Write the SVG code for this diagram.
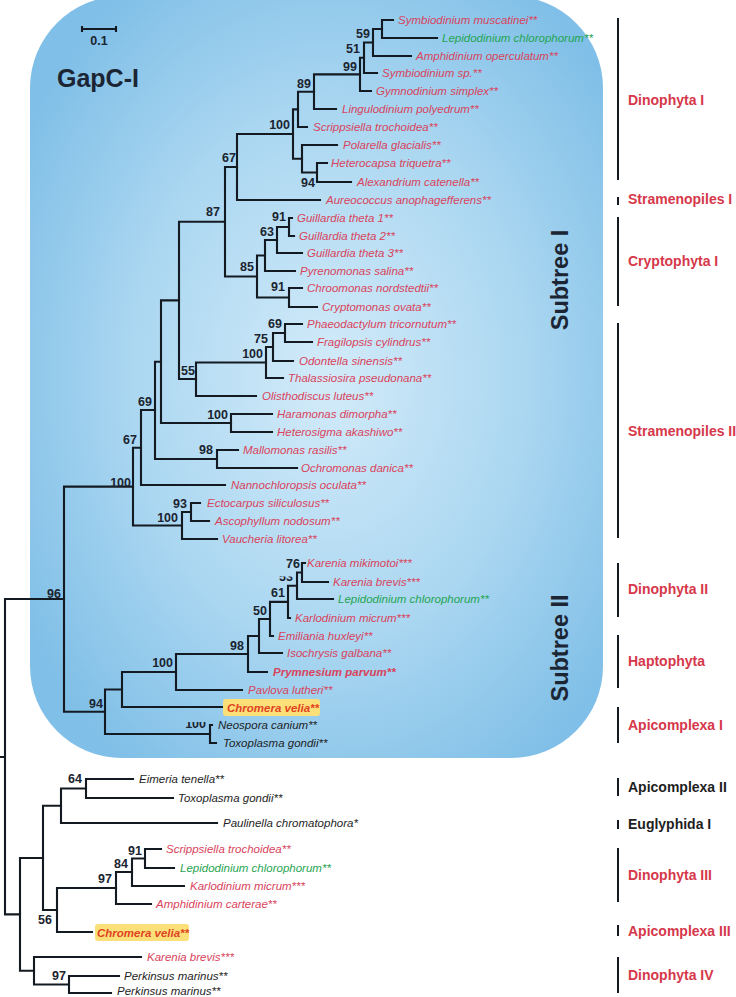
<svg xmlns="http://www.w3.org/2000/svg" width="736" height="997" viewBox="0 0 736 997">
<defs>
<radialGradient id="bg" cx="0.52" cy="0.5" r="0.62">
<stop offset="0" stop-color="#d3ebf9"/>
<stop offset="0.55" stop-color="#abd7f1"/>
<stop offset="1" stop-color="#80bfe7"/>
</radialGradient>
<clipPath id="c53"><rect x="270" y="576.5" width="30" height="10"/></clipPath>
<clipPath id="c100"><rect x="180" y="722" width="30" height="10"/></clipPath>
<style>
.br{fill:none;stroke:#141a22;stroke-width:2.1;stroke-linecap:square}
.bar{fill:none;stroke:#141a22;stroke-width:2}
.lf{font-family:"Liberation Sans",Arial,sans-serif;font-size:11.5px;font-style:italic}
.red{fill:#d9435c}
.grn{fill:#1fa552}
.blk{fill:#1e1e1e}
.bs{font-family:"Liberation Sans",Arial,sans-serif;font-size:12.5px;font-weight:bold;fill:#1b2430;text-anchor:end}
.grp{font-family:"Liberation Sans",Arial,sans-serif;font-size:14px;font-weight:bold}
.gred{fill:#d6374a}
.cv{font-family:"Liberation Sans",Arial,sans-serif;font-size:11.5px;font-style:italic;font-weight:bold;fill:#e0431f}
.hl{fill:#fbe07a}
.sub{font-family:"Liberation Sans",Arial,sans-serif;font-size:23.5px;font-weight:bold;fill:#1c2533;text-anchor:middle}
</style>
</defs>

<rect x="30" y="-4" width="573" height="762" rx="92" ry="92" fill="url(#bg)"/>

<g id="scale">
<path class="br" d="M83,29H115 M82,26V32 M116,26V32" style="stroke-linecap:butt"/>
<text x="99" y="45" style="font-family:'Liberation Sans',Arial,sans-serif;font-size:12.5px;font-weight:bold;fill:#1b2430;text-anchor:middle">0.1</text>
</g>
<g id="title"><text x="57" y="87" style="font-family:'Liberation Sans',Arial,sans-serif;font-size:25px;font-weight:bold;fill:#1c2533">GapC-I</text></g>
<g id="subtree1"><text class="sub" transform="translate(568,280) rotate(-90)">Subtree I</text></g>
<g id="subtree2"><text class="sub" transform="translate(568,648) rotate(-90)">Subtree II</text></g>

<g id="connectors">
<path class="br" d="M382,20V38 M382,20H393 M382,38H437"/>
<path class="br" d="M373,29V56 M373,29H382 M373,56H411"/>
<path class="br" d="M364,42.5V73 M364,42.5H373 M364,73H377"/>
<path class="br" d="M360,57.75V91 M360,57.75H364 M360,91H371"/>
<path class="br" d="M314,74.4V109 M314,74.4H360 M314,109H336"/>
<path class="br" d="M298,91.7V127 M298,91.7H314 M298,127H307"/>
<path class="br" d="M317,163V182 M317,163H327 M317,182H351"/>
<path class="br" d="M302,145V172.5 M302,145H337 M302,172.5H317"/>
<path class="br" d="M293,109.4V158.7 M293,109.4H298 M293,158.7H302"/>
<path class="br" d="M237,134V200 M237,134H293 M237,200H320"/>
<path class="br" d="M289,218V236 M289,218H292 M289,236H294"/>
<path class="br" d="M277,227V253 M277,227H289 M277,253H302"/>
<path class="br" d="M265,240V271 M265,240H277 M265,271H295"/>
<path class="br" d="M289,288V307 M289,288H302 M289,307H317"/>
<path class="br" d="M257,255.5V297.5 M257,255.5H265 M257,297.5H289"/>
<path class="br" d="M225,167V276.5 M225,167H237 M225,276.5H257"/>
<path class="br" d="M285,324V342 M285,324H302 M285,342H312"/>
<path class="br" d="M273,333V361 M273,333H285 M273,361H293"/>
<path class="br" d="M266,347V378 M266,347H273 M266,378H283"/>
<path class="br" d="M196,362.5V396 M196,362.5H266 M196,396H256"/>
<path class="br" d="M179,221.75V379 M179,221.75H225 M179,379H196"/>
<path class="br" d="M231,414V432 M231,414H272 M231,432H272"/>
<path class="br" d="M161,300.4V423 M161,300.4H179 M161,423H231"/>
<path class="br" d="M217,450V468 M217,450H238 M217,468H297"/>
<path class="br" d="M155,361.7V459 M155,361.7H161 M155,459H217"/>
<path class="br" d="M141,410V485 M141,410H155 M141,485H225"/>
<path class="br" d="M191,503V521 M191,503H200 M191,521H209"/>
<path class="br" d="M182,512V539 M182,512H191 M182,539H217"/>
<path class="br" d="M133,447.7V525.5 M133,447.7H141 M133,525.5H182"/>
<path class="br" d="M302,563V582 M302,563H305 M302,582H328"/>
<path class="br" d="M297,572.5V599 M297,572.5H302 M297,599H333"/>
<path class="br" d="M288,585.75V618 M288,585.75H297 M288,618H290"/>
<path class="br" d="M270,601.9V636 M270,601.9H288 M270,636H273"/>
<path class="br" d="M259,619V653 M259,619H270 M259,653H282"/>
<path class="br" d="M248,636V672 M248,636H259 M248,672H267"/>
<path class="br" d="M176,654V690 M176,654H248 M176,690H242"/>
<path class="br" d="M122,672V707 M122,672H176 M122,707H222"/>
<path class="br" d="M210,725V743 M210,725H212 M210,743H216"/>
<path class="br" d="M105,689.5V734 M105,689.5H122 M105,734H210"/>
<path class="br" d="M64,486.6V711.75 M64,486.6H133 M64,711.75H105"/>
<path class="br" d="M86,779V798 M86,779H133 M86,798H173"/>
<path class="br" d="M61,788.5V823 M61,788.5H86 M61,823H217"/>
<path class="br" d="M145,849V868 M145,849H161 M145,868H174"/>
<path class="br" d="M132,858.5V886 M132,858.5H145 M132,886H184"/>
<path class="br" d="M116,872V904 M116,872H132 M116,904H151"/>
<path class="br" d="M57,888V932 M57,888H116 M57,932H92"/>
<path class="br" d="M43,805.75V910 M43,805.75H61 M43,910H57"/>
<path class="br" d="M69,976V993 M69,976H119 M69,993H111"/>
<path class="br" d="M34,957V984.5 M34,957H141 M34,984.5H69"/>
<path class="br" d="M20,858V970.75 M20,858H43 M20,970.75H34"/>
<path class="br" d="M5,599V914.4 M5,599H64 M5,914.4H20 M0,757H5"/>
</g>

<g id="bootstrap">
<text class="bs" x="370" y="38">59</text>
<text class="bs" x="360" y="53">51</text>
<text class="bs" x="357" y="71">99</text>
<text class="bs" x="311" y="88">89</text>
<text class="bs" x="290" y="129">100</text>
<text class="bs" x="236" y="162">67</text>
<text class="bs" x="315" y="187">94</text>
<text class="bs" x="220" y="216">87</text>
<text class="bs" x="286" y="221">91</text>
<text class="bs" x="274" y="236">63</text>
<text class="bs" x="254" y="271">85</text>
<text class="bs" x="285" y="291">91</text>
<text class="bs" x="282" y="328">69</text>
<text class="bs" x="268" y="343">75</text>
<text class="bs" x="263" y="358">100</text>
<text class="bs" x="195" y="375">55</text>
<text class="bs" x="152" y="406">69</text>
<text class="bs" x="228" y="419">100</text>
<text class="bs" x="137" y="444">67</text>
<text class="bs" x="213" y="454">98</text>
<text class="bs" x="131" y="487">100</text>
<text class="bs" x="187" y="508">93</text>
<text class="bs" x="178" y="522">100</text>
<text class="bs" x="61" y="598">96</text>
<text class="bs" x="300" y="568">76</text>
<text class="bs" x="293" y="581" clip-path="url(#c53)">53</text>
<text class="bs" x="285" y="597">61</text>
<text class="bs" x="267" y="615">50</text>
<text class="bs" x="244" y="650">98</text>
<text class="bs" x="173" y="667">100</text>
<text class="bs" x="103" y="708">94</text>
<text class="bs" x="206" y="728" clip-path="url(#c100)">100</text>
<text class="bs" x="82" y="783">64</text>
<text class="bs" x="142" y="855">91</text>
<text class="bs" x="128" y="868">84</text>
<text class="bs" x="112" y="883">97</text>
<text class="bs" x="52" y="924">56</text>
<text class="bs" x="66" y="980">97</text>
</g>

<g id="taxa">
<g id="t1"><text class="lf red" x="398" y="24">Symbiodinium muscatinei**</text></g>
<g id="t2"><text class="lf grn" x="442" y="42">Lepidodinium chlorophorum**</text></g>
<g id="t3"><text class="lf red" x="416" y="60">Amphidinium operculatum**</text></g>
<g id="t4"><text class="lf red" x="382" y="77">Symbiodinium sp.**</text></g>
<g id="t5"><text class="lf red" x="376" y="95">Gymnodinium simplex**</text></g>
<g id="t6"><text class="lf red" x="342" y="113">Lingulodinium polyedrum**</text></g>
<g id="t7"><text class="lf red" x="313" y="131">Scrippsiella trochoidea**</text></g>
<g id="t8"><text class="lf red" x="343" y="149">Polarella glacialis**</text></g>
<g id="t9"><text class="lf red" x="331" y="167">Heterocapsa triquetra**</text></g>
<g id="t10"><text class="lf red" x="357" y="186">Alexandrium catenella**</text></g>
<g id="t11"><text class="lf red" x="326" y="204">Aureococcus anophagefferens**</text></g>
<g id="t12"><text class="lf red" x="297" y="222">Guillardia theta 1**</text></g>
<g id="t13"><text class="lf red" x="299" y="240">Guillardia theta 2**</text></g>
<g id="t14"><text class="lf red" x="307" y="257">Guillardia theta 3**</text></g>
<g id="t15"><text class="lf red" x="300" y="275">Pyrenomonas salina**</text></g>
<g id="t16"><text class="lf red" x="307" y="292">Chroomonas nordstedtii**</text></g>
<g id="t17"><text class="lf red" x="322" y="311">Cryptomonas ovata**</text></g>
<g id="t18"><text class="lf red" x="307" y="328">Phaeodactylum tricornutum**</text></g>
<g id="t19"><text class="lf red" x="317" y="346">Fragilopsis cylindrus**</text></g>
<g id="t20"><text class="lf red" x="299" y="365">Odontella sinensis**</text></g>
<g id="t21"><text class="lf red" x="288" y="382">Thalassiosira pseudonana**</text></g>
<g id="t22"><text class="lf red" x="262" y="400">Olisthodiscus luteus**</text></g>
<g id="t23"><text class="lf red" x="277" y="418">Haramonas dimorpha**</text></g>
<g id="t24"><text class="lf red" x="277" y="436">Heterosigma akashiwo**</text></g>
<g id="t25"><text class="lf red" x="243" y="454">Mallomonas rasilis**</text></g>
<g id="t26"><text class="lf red" x="301" y="472">Ochromonas danica**</text></g>
<g id="t27"><text class="lf red" x="231" y="489">Nannochloropsis oculata**</text></g>
<g id="t28"><text class="lf red" x="207" y="507">Ectocarpus siliculosus**</text></g>
<g id="t29"><text class="lf red" x="215" y="525">Ascophyllum nodosum**</text></g>
<g id="t30"><text class="lf red" x="222" y="543">Vaucheria litorea**</text></g>
<g id="t31"><text class="lf red" x="307" y="567">Karenia mikimotoi***</text></g>
<g id="t32"><text class="lf red" x="333" y="586">Karenia brevis***</text></g>
<g id="t33"><text class="lf grn" x="338" y="603">Lepidodinium chlorophorum**</text></g>
<g id="t34"><text class="lf red" x="295" y="622">Karlodinium micrum***</text></g>
<g id="t35"><text class="lf red" x="278" y="640">Emiliania huxleyi**</text></g>
<g id="t36"><text class="lf red" x="287" y="657">Isochrysis galbana**</text></g>
<g id="t37"><text class="lf red" x="273" y="676" font-weight="bold">Prymnesium parvum**</text></g>
<g id="t38"><text class="lf red" x="248" y="694">Pavlova lutheri**</text></g>
<g id="t39"><rect class="hl" x="223" y="699" width="97" height="17" rx="3"/><text class="cv" x="227" y="711.5">Chromera velia**</text></g>
<g id="t40"><text class="lf blk" x="218" y="729">Neospora canium**</text></g>
<g id="t41"><text class="lf blk" x="223" y="747">Toxoplasma gondii**</text></g>
<g id="t42"><text class="lf blk" x="139" y="783">Eimeria tenella**</text></g>
<g id="t43"><text class="lf blk" x="178" y="802">Toxoplasma gondii**</text></g>
<g id="t44"><text class="lf blk" x="223" y="827">Paulinella chromatophora*</text></g>
<g id="t45"><text class="lf red" x="166" y="853">Scrippsiella trochoidea**</text></g>
<g id="t46"><text class="lf grn" x="180" y="872">Lepidodinium chlorophorum**</text></g>
<g id="t47"><text class="lf red" x="190" y="890">Karlodinium micrum***</text></g>
<g id="t48"><text class="lf red" x="156" y="908">Amphidinium carterae**</text></g>
<g id="t49"><rect class="hl" x="95" y="924" width="94" height="17" rx="3"/><text class="cv" x="97" y="936.5">Chromera velia**</text></g>
<g id="t50"><text class="lf red" x="147" y="961">Karenia brevis***</text></g>
<g id="t51"><text class="lf blk" x="124" y="980">Perkinsus marinus**</text></g>
<g id="t52"><text class="lf blk" x="117" y="994.5">Perkinsus marinus**</text></g>
</g>

<g id="groups">
<g id="g1"><path class="bar" d="M618,18V180"/><text class="grp gred" x="628" y="105">Dinophyta I</text></g>
<g id="g2"><path class="bar" d="M618,197V205"/><text class="grp gred" x="628" y="204">Stramenopiles I</text></g>
<g id="g3"><path class="bar" d="M618,217V306"/><text class="grp gred" x="628" y="266">Cryptophyta I</text></g>
<g id="g4"><path class="bar" d="M618,323V538"/><text class="grp gred" x="628" y="436">Stramenopiles II</text></g>
<g id="g5"><path class="bar" d="M618,563V617"/><text class="grp gred" x="628" y="594">Dinophyta II</text></g>
<g id="g6"><path class="bar" d="M618,635V688"/><text class="grp gred" x="628" y="666">Haptophyta</text></g>
<g id="g7"><path class="bar" d="M618,707V743"/><text class="grp gred" x="628" y="730">Apicomplexa I</text></g>
<g id="g8"><path class="bar" d="M618,778V796"/><text class="grp blk" x="628" y="792">Apicomplexa II</text></g>
<g id="g9"><path class="bar" d="M618,820V829"/><text class="grp blk" x="628" y="829">Euglyphida I</text></g>
<g id="g10"><path class="bar" d="M618,848V902"/><text class="grp gred" x="628" y="880">Dinophyta III</text></g>
<g id="g11"><path class="bar" d="M618,925V936"/><text class="grp gred" x="628" y="936">Apicomplexa III</text></g>
<g id="g12"><path class="bar" d="M618,957V993"/><text class="grp gred" x="628" y="980">Dinophyta IV</text></g>
</g>
</svg>
